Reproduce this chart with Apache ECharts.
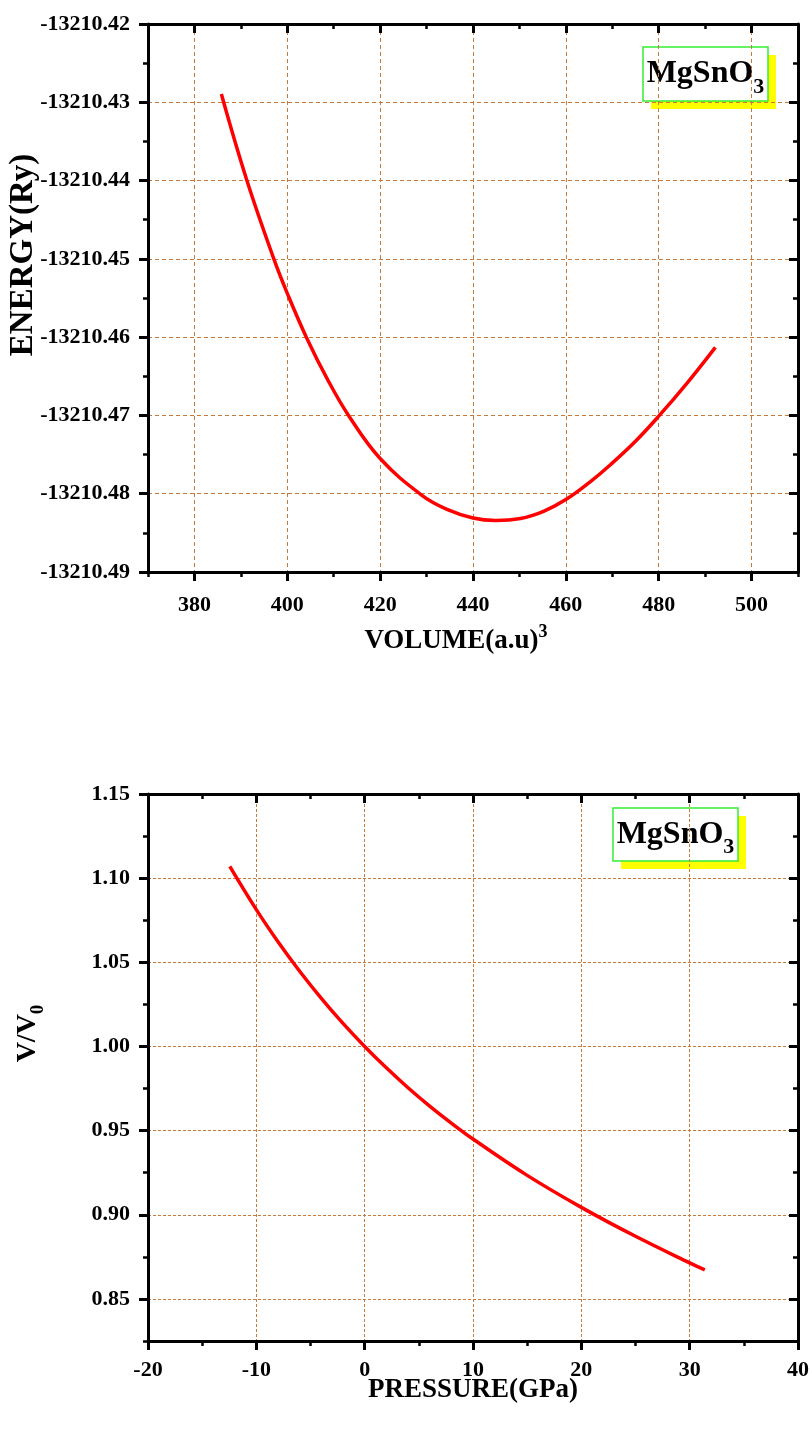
<!DOCTYPE html>
<html>
<head>
<meta charset="utf-8">
<script src="https://cdn.jsdelivr.net/npm/echarts@6/dist/echarts.min.js"></script>
<style>
  html, body { margin: 0; padding: 0; background: #ffffff; }
  #chart { width: 812px; height: 1429px; }
</style>
</head>
<body>
<div id="chart"></div>
<script>
// ---- Energy versus volume (MgSnO3) ----
const volume = [385.8, 391.2, 397.1, 400.0, 404.1, 408.8, 413.3, 420.0, 429.0, 434.4, 440.0, 444.8, 450.2,
                455.2, 460.0, 465.3, 469.6, 475.0, 480.0, 486.2, 492.2];
const energy = [-13210.42895, -13210.43980, -13210.45000, -13210.45440, -13210.46000, -13210.46555, -13210.47010,
                -13210.47550, -13210.48020, -13210.48200, -13210.48310, -13210.48342, -13210.48317,
                -13210.48225, -13210.48075, -13210.47845, -13210.47630, -13210.47330, -13210.47010,
                -13210.46580, -13210.46130];

// ---- Relative volume versus pressure ----
const pressure    = [-12.45, -10.0, -8.0, -6.0, -4.0, -2.0, 0.0, 2.0, 4.0, 6.0, 8.0, 10.0, 15.0, 20.0, 25.0, 30.0, 31.4];
const volumeRatio = [1.1070, 1.0813, 1.0622, 1.0447, 1.0286, 1.0137, 1.0000, 0.9873, 0.9755, 0.9646, 0.9545,
                     0.9450, 0.9234, 0.9044, 0.8872, 0.8714, 0.8673];

// ---- Tick values ----
const volumeTicks   = [380, 400, 420, 440, 460, 480, 500];
const energyTicks   = [-13210.49, -13210.48, -13210.47, -13210.46, -13210.45, -13210.44, -13210.43, -13210.42];
const pressureTicks = [-20, -10, 0, 10, 20, 30, 40];
const ratioTicks    = [0.85, 0.90, 0.95, 1.00, 1.05, 1.10, 1.15];

const FONT = "'Liberation Serif', 'Times New Roman', serif";
const GRID_COLOR = '#c77a3a';

const ranges = {
  volume:   { min: 370, max: 510, minor: 10, majors: volumeTicks, fmt: v => String(v), margin: 22, dash: [4, 3] },
  energy:   { min: -13210.49, max: -13210.42, minor: 0.005, majors: energyTicks, fmt: v => v.toFixed(2), margin: 18, dash: [4, 3] },
  pressure: { min: -20, max: 40, minor: 5, majors: pressureTicks, fmt: v => String(v), margin: 18, dash: [3, 2] },
  ratio:    { min: 0.825, max: 1.15, minor: 0.025, majors: ratioTicks, fmt: v => v.toFixed(2), margin: 18, dash: [3, 2] }
};

// Axis carrying the long ticks, labels and dashed grid lines
function majorAxis(gridIndex, position, r, labelled, extra) {
  const inside = position === 'top' || position === 'right';
  return Object.assign({
    type: 'value', gridIndex, position, min: r.min, max: r.max, interval: r.minor,
    nameMoveOverlap: false,
    axisLine: { show: true, onZero: false, lineStyle: { color: '#000', width: 3 } },
    axisTick: { show: true, customValues: r.majors, inside, length: 9, lineStyle: { color: '#000', width: 3 } },
    axisLabel: labelled ? {
      show: true, customValues: r.majors, formatter: r.fmt, margin: r.margin,
      color: '#000', fontSize: 22, fontWeight: 'bold', fontFamily: FONT
    } : { show: false },
    splitLine: labelled ? { show: true, lineStyle: { color: GRID_COLOR, width: 1, type: r.dash } } : { show: false },
    minorTick: { show: false }, minorSplitLine: { show: false }
  }, extra || {});
}
// Axis carrying only the short intermediate ticks
function minorAxis(gridIndex, position, r) {
  const inside = position === 'top' || position === 'right';
  return {
    type: 'value', gridIndex, position, min: r.min, max: r.max, interval: r.minor,
    axisLine: { show: false, onZero: false },
    axisTick: { show: true, inside, length: 5, lineStyle: { color: '#000', width: 2.5 } },
    axisLabel: { show: false }, splitLine: { show: false }
  };
}

const nameBase = { color: '#000', fontWeight: 'bold', fontFamily: FONT };

const xAxes = [
  majorAxis(0, 'bottom', ranges.volume, true, {
    name: '{m|VOLUME(a.u)}{p|3}', nameLocation: 'middle', nameGap: 51,
    nameTextStyle: Object.assign({}, nameBase, { padding: [0, 34, 0, 0], rich: {
      m: Object.assign({}, nameBase, { fontSize: 27, padding: [5, 0, 0, 0], verticalAlign: 'bottom' }),
      p: Object.assign({}, nameBase, { fontSize: 18, verticalAlign: 'top' })
    } })
  }),
  minorAxis(0, 'bottom', ranges.volume),
  majorAxis(0, 'top', ranges.volume, false),
  minorAxis(0, 'top', ranges.volume),
  majorAxis(1, 'bottom', ranges.pressure, true, {
    name: 'PRESSURE(GPa)', nameLocation: 'middle', nameGap: 36,
    nameTextStyle: Object.assign({}, nameBase, { fontSize: 27 })
  }),
  minorAxis(1, 'bottom', ranges.pressure),
  majorAxis(1, 'top', ranges.pressure, false),
  minorAxis(1, 'top', ranges.pressure)
];

const yAxes = [
  majorAxis(0, 'left', ranges.energy, true, {
    name: 'ENERGY(Ry)', nameLocation: 'middle', nameGap: 108, nameRotate: 90,
    nameTextStyle: Object.assign({}, nameBase, { fontSize: 33, padding: [0, 0, 0, 86] })
  }),
  minorAxis(0, 'left', ranges.energy),
  majorAxis(0, 'right', ranges.energy, false),
  minorAxis(0, 'right', ranges.energy),
  majorAxis(1, 'left', ranges.ratio, true, {
    name: '{m|V/V}{s|0}', nameLocation: 'middle', nameGap: 100, nameRotate: 90,
    nameTextStyle: Object.assign({}, nameBase, { padding: [0, 0, 0, 68], rich: {
      m: Object.assign({}, nameBase, { fontSize: 28, verticalAlign: 'top' }),
      s: Object.assign({}, nameBase, { fontSize: 19, padding: [15, 0, 0, 0], verticalAlign: 'top' })
    } })
  }),
  minorAxis(1, 'left', ranges.ratio),
  majorAxis(1, 'right', ranges.ratio, false),
  minorAxis(1, 'right', ranges.ratio)
];

// Compound label box with an offset yellow shadow
function labelBox(x, y, w, h) {
  const rich = {
    m: { fontSize: 32, fontWeight: 'bold', fontFamily: FONT, fill: '#000', verticalAlign: 'top' },
    s: { fontSize: 22, fontWeight: 'bold', fontFamily: FONT, fill: '#000', padding: [18, 0, 0, 0], verticalAlign: 'top' }
  };
  return {
    type: 'group', z: 100,
    children: [
      { type: 'rect', shape: { x: x + 8, y: y + 8, width: w, height: h }, style: { fill: '#ffff00' } },
      { type: 'rect', shape: { x: x, y: y, width: w, height: h }, style: { fill: '#ffffff', stroke: '#33ee33', lineWidth: 1.5 } },
      { type: 'text', x: x + w / 2, y: y + h / 2 + 4,
        style: { text: '{m|MgSnO}{s|3}', rich, align: 'center', verticalAlign: 'middle' } }
    ]
  };
}

const chart = echarts.init(document.getElementById('chart'), null, { renderer: 'canvas' });
chart.setOption({
  backgroundColor: '#ffffff',
  animation: false,
  grid: [
    { left: 148, top: 24, width: 650, height: 548, containLabel: false, outerBoundsMode: 'none' },
    { left: 148, top: 794, width: 650, height: 547, containLabel: false, outerBoundsMode: 'none' }
  ],
  xAxis: xAxes,
  yAxis: yAxes,
  series: [
    {
      type: 'line', xAxisIndex: 0, yAxisIndex: 0, smooth: 0.4, showSymbol: false,
      lineStyle: { color: '#ff0000', width: 3.5 },
      data: volume.map((v, i) => [v, energy[i]])
    },
    {
      type: 'line', xAxisIndex: 4, yAxisIndex: 4, smooth: 0.4, showSymbol: false,
      lineStyle: { color: '#ff0000', width: 3.5 },
      data: pressure.map((p, i) => [p, volumeRatio[i]])
    }
  ],
  graphic: [
    labelBox(643, 47, 125, 54),
    labelBox(613, 808, 125, 53)
  ]
});
</script>
</body>
</html>
